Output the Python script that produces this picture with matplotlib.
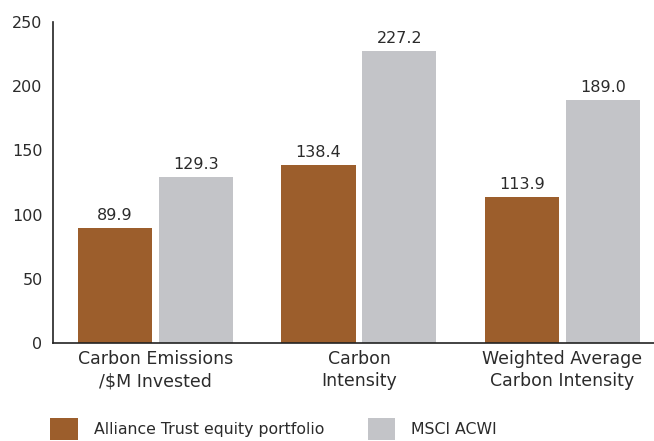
import matplotlib
matplotlib.use("Agg")
import matplotlib.pyplot as plt
from matplotlib.patches import Patch
import numpy as np

categories = ["Carbon Emissions\n/$M Invested", "Carbon\nIntensity", "Weighted Average\nCarbon Intensity"]
series_names = ["Alliance Trust equity portfolio", "MSCI ACWI"]
alliance = [89.9, 138.4, 113.9]
msci = [129.3, 227.2, 189.0]
yticks = [0, 50, 100, 150, 200, 250]

brown = "#9C5E2C"
grey = "#C3C4C8"
txt = "#2b2b2b"

plt.rcParams["font.family"] = ["DejaVu Sans"]

fig = plt.figure(figsize=(6.54, 4.41), dpi=100)
ax = fig.add_axes([0.081, 0.222, 0.919, 0.728])

x = np.arange(len(categories))
w = 0.364
off = 0.199
b1 = ax.bar(x - off, alliance, w, color=brown)
b2 = ax.bar(x + off, msci, w, color=grey)
for bars, vals in ((b1, alliance), (b2, msci)):
    for r, v in zip(bars, vals):
        ax.text(r.get_x() + r.get_width() / 2, v + 4, f"{v:.1f}", ha="center", va="bottom",
                fontsize=11.5, color=txt)

ax.set_xlim(-0.504, 2.45)
ax.set_ylim(0, 250)
ax.set_yticks(yticks)
ax.set_xticks(x)
ax.set_xticklabels(categories, fontsize=12.5, color=txt, linespacing=1.3)
ax.tick_params(axis="y", labelsize=11.5, labelcolor=txt, length=0, pad=7.5)
ax.tick_params(axis="x", length=0, pad=5)
for s in ("top", "right"):
    ax.spines[s].set_visible(False)
for s in ("left", "bottom"):
    ax.spines[s].set_color("#222222")
    ax.spines[s].set_linewidth(1.2)

h1 = Patch(facecolor=brown)
h2 = Patch(facecolor=grey)
common = dict(frameon=False, fontsize=11.3, handlelength=1.76, handleheight=1.76,
              handletextpad=1.0, labelcolor=txt, borderpad=0)
fig.legend([h1], [series_names[0]], loc="lower left", bbox_to_anchor=(0.065, -0.016), **common)
fig.legend([h2], [series_names[1]], loc="lower left", bbox_to_anchor=(0.550, -0.016), **common)

fig.savefig("out.png", dpi=100)
